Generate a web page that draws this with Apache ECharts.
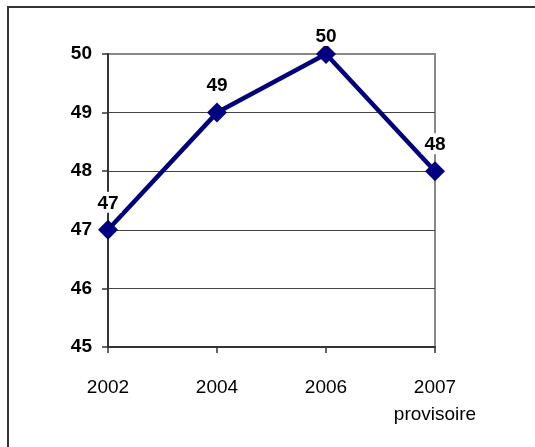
<!DOCTYPE html>
<html>
<head>
<meta charset="utf-8">
<script src="https://cdn.jsdelivr.net/npm/echarts@6/dist/echarts.min.js"></script>
<style>
  html, body { margin: 0; padding: 0; background: #fff; overflow: hidden; }
  #chart { width: 535px; height: 447px; }
</style>
</head>
<body>
<div id="chart"></div>
<script>
// données
var years = ['2002', '2004', '2006', '2007\nprovisoire'];
var values = [47, 49, 50, 48];
var yTicks = { min: 45, max: 50, step: 1 };

var font = 'Arial, "Liberation Sans", sans-serif';
var chart = echarts.init(document.getElementById('chart'));

// l'étiquette "50" est collée au point, les autres un peu plus haut
var seriesData = values.map(function (v, i) {
  return {
    value: v,
    label: { distance: i === 2 ? -2 : 7 }
  };
});

var option = {
  animation: false,
  backgroundColor: '#fff',
  textStyle: { fontFamily: font },
  // cadre extérieur : seulement en haut et à gauche
  graphic: [{
    type: 'line',
    shape: { x1: 7, y1: 7, x2: 540, y2: 7 },
    style: { stroke: '#333', lineWidth: 2 },
    silent: true
  }, {
    type: 'line',
    shape: { x1: 8, y1: 6, x2: 8, y2: 450 },
    style: { stroke: '#333', lineWidth: 2 },
    silent: true
  }],
  grid: {
    left: 108,
    top: 54,
    right: 100,
    bottom: 100,
    show: true,
    borderColor: '#888',
    borderWidth: 2
  },
  xAxis: {
    type: 'category',
    boundaryGap: false,
    data: years,
    axisLine: { lineStyle: { color: '#333', width: 2 } },
    axisTick: { show: true, inside: false, length: 6, lineStyle: { color: '#333', width: 1.5 } },
    axisLabel: {
      color: '#000',
      fontSize: 19,
      fontFamily: font,
      lineHeight: 27,
      margin: 27
    },
    splitLine: { show: false }
  },
  yAxis: {
    type: 'value',
    min: yTicks.min,
    max: yTicks.max,
    interval: yTicks.step,
    axisLine: { show: true, lineStyle: { color: '#333', width: 2 } },
    axisTick: { show: true, inside: false, length: 6, lineStyle: { color: '#333', width: 1.5 } },
    axisLabel: {
      color: '#000',
      fontSize: 19,
      fontWeight: 'bold',
      fontFamily: font,
      margin: 16
    },
    splitLine: {
      show: true,
      lineStyle: { color: ['#444', '#444', '#444', '#444', '#444', '#888'], width: 1 }
    }
  },
  series: [{
    type: 'line',
    data: seriesData,
    symbol: 'diamond',
    symbolSize: 20,
    lineStyle: { color: '#000080', width: 4.5 },
    itemStyle: { color: '#000080' },
    label: {
      show: true,
      position: 'top',
      color: '#000',
      fontSize: 19,
      fontWeight: 'bold',
      fontFamily: font,
      backgroundColor: '#fff',
      padding: [2, 3, 0, 3]
    },
    z: 3
  }]
};

chart.setOption(option);
</script>
</body>
</html>
